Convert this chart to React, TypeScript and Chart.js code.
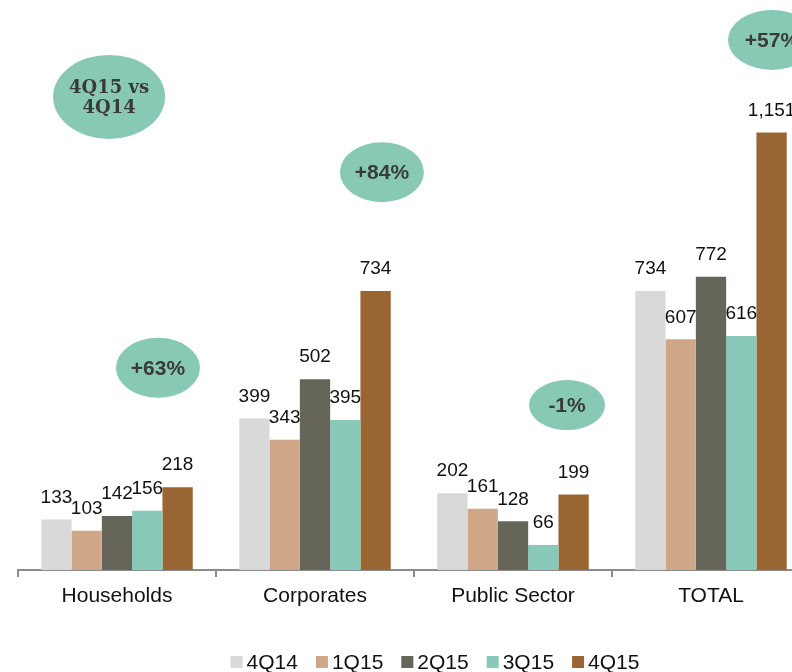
import React, { useEffect, useRef } from "react";
import { Chart, registerables } from "chart.js";

Chart.register(...registerables);

const categories = ["Households", "Corporates", "Public Sector", "TOTAL"];
const seriesNames = ["4Q14", "1Q15", "2Q15", "3Q15", "4Q15"];
const v4Q14 = [133, 399, 202, 734];
const v1Q15 = [103, 343, 161, 607];
const v2Q15 = [142, 502, 128, 772];
const v3Q15 = [156, 395, 66, 616];
const v4Q15 = [218, 734, 199, 1151];
const seriesColors = ["#D9D9D9", "#D0A688", "#656659", "#88C9B9", "#996633"];

// Bubble annotations: text, category position (fractional index), value height
const bubbleTexts = [["4Q15 vs", "4Q14"], ["+63%"], ["+84%"], ["-1%"], ["+57%"]];
const bubbleX = [-0.04, 0.207, 1.338, 2.273, 3.308];
const bubbleY = [1245, 532, 1047, 434, 1395];
const bubbleRx = [56, 42, 42, 38, 44];
const bubbleRy = [42, 30, 30, 25, 30];

const FONT = '"Liberation Sans", Arial, sans-serif';

const valueLabels = {
  id: "valueLabels",
  afterDatasetsDraw(chart: any) {
    const ctx = chart.ctx;
    ctx.save();
    ctx.font = "19px " + FONT;
    ctx.fillStyle = "#111111";
    ctx.textAlign = "center";
    ctx.textBaseline = "middle";
    chart.data.datasets.forEach((ds: any, di: number) => {
      const meta = chart.getDatasetMeta(di);
      meta.data.forEach((bar: any, i: number) => {
        const v = ds.data[i];
        ctx.fillText(v.toLocaleString("en-US"), bar.x, bar.y - 22);
      });
    });
    ctx.restore();
  },
};

const bubbles = {
  id: "bubbles",
  afterDraw(chart: any) {
    const ctx = chart.ctx;
    const xs = chart.scales.x;
    const ys = chart.scales.y;
    ctx.save();
    bubbleTexts.forEach((lines, k) => {
      const cx = xs.getPixelForValue(bubbleX[k]);
      const cy = ys.getPixelForValue(bubbleY[k]);
      ctx.beginPath();
      ctx.ellipse(cx, cy, bubbleRx[k], bubbleRy[k], 0, 0, Math.PI * 2);
      ctx.fillStyle = "#88C9B5";
      ctx.fill();
      ctx.fillStyle = "#3A3A3A";
      ctx.textAlign = "center";
      ctx.textBaseline = "middle";
      if (lines.length > 1) {
        ctx.font = 'bold 18px "DejaVu Serif", "Liberation Serif", serif';
        ctx.fillText(lines[0], cx, cy - 9);
        ctx.fillText(lines[1], cx, cy + 11);
      } else {
        ctx.font = "bold 21px " + FONT;
        ctx.fillText(lines[0], cx, cy + 1);
      }
    });
    ctx.restore();
  },
};

const customLegend = {
  id: "customLegend",
  afterDraw(chart: any) {
    const ctx = chart.ctx;
    ctx.save();
    ctx.font = "21px " + FONT;
    const box = 12;
    const textGap = 4;
    const itemGap = 18;
    const ds = chart.data.datasets;
    const widths = ds.map((d: any) => box + textGap + ctx.measureText(d.label).width);
    const total = widths.reduce((a: number, b: number) => a + b, 0) + itemGap * (ds.length - 1);
    let x = chart.width / 2 - total / 2;
    const cy = chart.height - 10;
    ctx.textBaseline = "middle";
    ctx.textAlign = "left";
    ds.forEach((d: any, i: number) => {
      ctx.fillStyle = d.backgroundColor;
      ctx.fillRect(x, cy - box / 2, box, box);
      ctx.fillStyle = "#111111";
      ctx.fillText(d.label, x + box + textGap, cy + 1);
      x += widths[i] + itemGap;
    });
    ctx.restore();
  },
};

export default function App() {
  const ref = useRef<HTMLCanvasElement>(null);
  useEffect(() => {
    const values = [v4Q14, v1Q15, v2Q15, v3Q15, v4Q15];
    const chart = new Chart(ref.current!, {
      type: "bar",
      data: {
        labels: categories,
        datasets: seriesNames.map((n, i) => ({
          label: n,
          data: values[i],
          backgroundColor: seriesColors[i],
          borderWidth: 0,
          categoryPercentage: 0.765,
          barPercentage: 1,
        })),
      },
      options: {
        responsive: false,
        animation: false,
        layout: { padding: { left: 18, right: 60, top: 0, bottom: 0 } },
        plugins: {
          tooltip: { enabled: false },
          legend: { display: false },
        },
        scales: {
          x: {
            offset: true,
            grid: {
              display: true,
              drawOnChartArea: false,
              offset: true,
              tickLength: 7,
              color: "#8C8C8C",
              lineWidth: 2,
            },
            border: { display: true, color: "#8C8C8C", width: 2 },
            ticks: {
              font: { size: 21, family: FONT },
              color: "#111111",
              padding: 7,
            },
            afterFit: (s: any) => {
              s.height = 102;
            },
          },
          y: {
            display: false,
            min: 0,
            max: 1500,
          },
        },
      },
      plugins: [valueLabels, bubbles, customLegend],
    });
    return () => chart.destroy();
  }, []);
  return (
    <div style={{ position: "fixed", left: 0, top: 0, width: 792, height: 672, overflow: "hidden", background: "#fff" }}>
      <canvas ref={ref} width={870} height={672} style={{ display: "block" }} />
    </div>
  );
}
